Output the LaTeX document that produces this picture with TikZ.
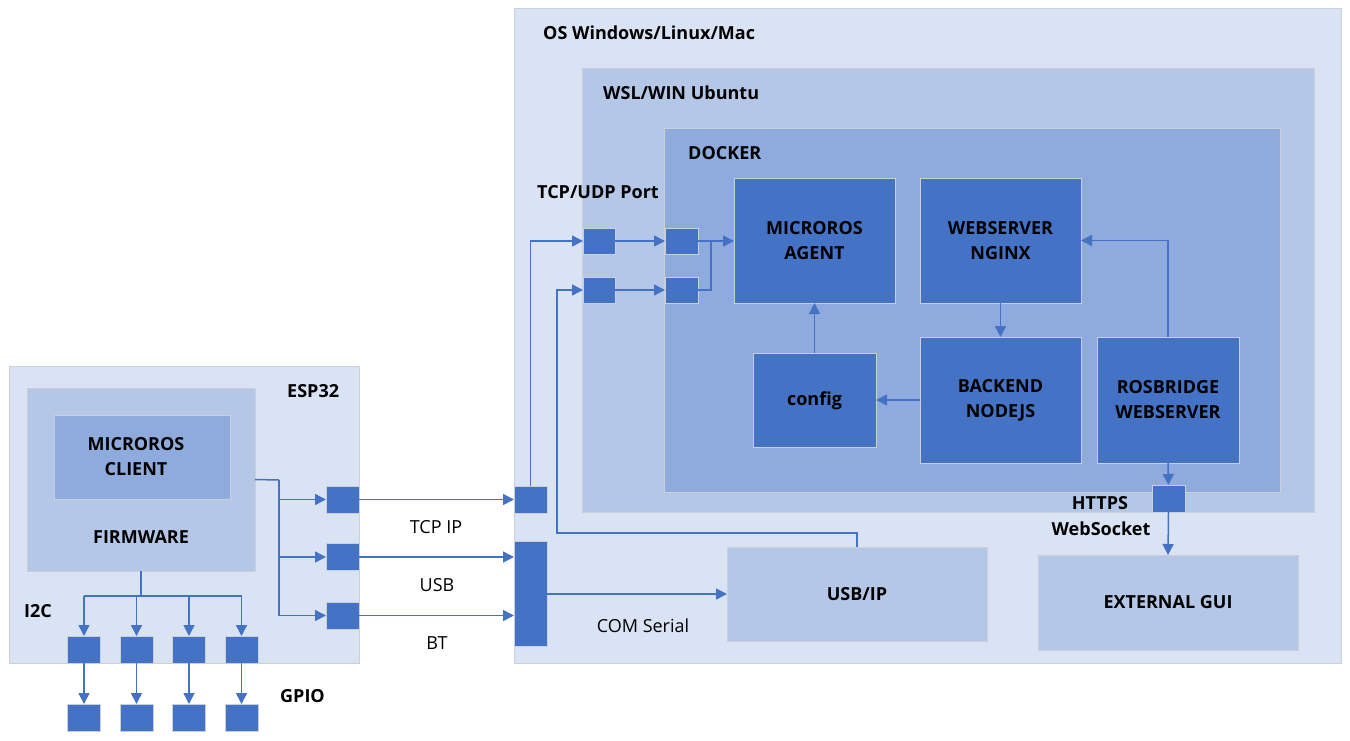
\documentclass[tikz,border=0pt]{standalone}
\usepackage{fontspec}
\setmainfont{Open Sans}
\usetikzlibrary{arrows.meta}
\definecolor{osfill}{HTML}{DAE3F3}
\definecolor{wslfill}{HTML}{B4C7E7}
\definecolor{dockfill}{HTML}{8FAADC}
\definecolor{blu}{HTML}{4472C4}
\definecolor{edge}{HTML}{C9D0DC}
\tikzset{
  panel/.style={draw=edge, line width=0.8pt, inner sep=0pt, outer sep=0pt},
  blk/.style={panel, fill=blu, align=center, font=\fontsize{18}{25}\selectfont\bfseries},
  port/.style={panel, fill=blu},
  lbl/.style={inner sep=0pt, font=\fontsize{18}{25}\selectfont\bfseries, align=center},
  plain/.style={inner sep=0pt, font=\fontsize{18}{25}\selectfont},
  wire/.style={draw=blu, line width=1.5pt},
  arr/.style={wire, -{Triangle[length=11pt,width=11pt]}},
}
\begin{document}
\begin{tikzpicture}[x=1pt,y=-1pt]
\useasboundingbox (0,0) rectangle (1350,741);
\fill[white] (0,0) rectangle (1350,741);
% OS panels
\node[panel, fill=osfill, minimum width=827pt, minimum height=655pt] (os) at (927.5,335.5) {};
\node[panel, fill=wslfill, minimum width=732pt, minimum height=444pt] (wsl) at (948,290) {};
\node[panel, fill=dockfill, minimum width=616pt, minimum height=364pt] (docker) at (972,310) {};
\node[lbl, anchor=west] (osl) at (543,33) {OS Windows/Linux/Mac};
\node[lbl, anchor=west] (wsll) at (603,93) {WSL/WIN Ubuntu};
\node[lbl, anchor=west] (dockl) at (688,153) {DOCKER};
\node[lbl, anchor=west] (tcpudp) at (537,192) {TCP/UDP Port};
% docker blocks
\node[blk, minimum width=161pt, minimum height=125pt] (agent) at (814.5,240.5) {MICROROS\\AGENT};
\node[blk, minimum width=161pt, minimum height=125pt] (nginx) at (1000.5,240.5) {WEBSERVER\\NGINX};
\node[blk, minimum width=123pt, minimum height=94pt] (config) at (814.5,400) {};
\node[lbl] (configl) at (814.5,401) {config};
\node[blk, minimum width=161pt, minimum height=126pt] (backend) at (1000.5,400) {BACKEND\\NODEJS};
\node[blk, minimum width=142pt, minimum height=126pt] (rosb) at (1168,400) {ROSBRIDGE\\WEBSERVER};
\node[port, minimum width=33pt, minimum height=27pt] (https) at (1168.5,498.5) {};
% ports
\node[port, minimum width=32pt, minimum height=26pt] (p1a) at (599,241) {};
\node[port, minimum width=33pt, minimum height=26pt] (p1b) at (681.5,241) {};
\node[port, minimum width=32pt, minimum height=26pt] (p2a) at (599,290) {};
\node[port, minimum width=33pt, minimum height=26pt] (p2b) at (681.5,290) {};
\node[port, minimum width=33pt, minimum height=27pt] (tcpsq) at (530.5,499.5) {};
\node[port, minimum width=33pt, minimum height=105pt] (bar) at (530.5,593.5) {};
% lower boxes
\node[panel, fill=wslfill, minimum width=260pt, minimum height=94pt, font=\fontsize{18}{25}\selectfont\bfseries] (usbip) at (857,594) {USB/IP};
\node[panel, fill=wslfill, minimum width=260pt, minimum height=95pt, font=\fontsize{18}{25}\selectfont\bfseries] (extgui) at (1168,602.5) {EXTERNAL GUI};
\node[lbl] (httpsl) at (1100,503) {HTTPS};
\node[lbl] (wsl2) at (1101,529) {WebSocket};
\node[plain] (coml) at (643,626) {COM Serial};
% ESP32
\node[panel, fill=osfill, minimum width=350pt, minimum height=297pt] (esp) at (184,514.5) {};
\node[panel, fill=wslfill, minimum width=228pt, minimum height=183pt] (fw) at (141,479.5) {};
\node[panel, fill=dockfill, minimum width=176pt, minimum height=84pt] (mc) at (142,457) {};
\node[lbl] (mcl) at (136,457) {MICROROS\\CLIENT};
\node[lbl] (fwl) at (141,537) {FIRMWARE};
\node[lbl, anchor=west] (espl) at (287,391) {ESP32};
\node[lbl, anchor=west] (i2cl) at (24,611) {I2C};
\node[lbl, anchor=west] (gpiol) at (280,696) {GPIO};
\node[port, minimum width=33pt, minimum height=27pt] (s1) at (342.5,499.5) {};
\node[port, minimum width=33pt, minimum height=27pt] (s2) at (342.5,557) {};
\node[port, minimum width=33pt, minimum height=27pt] (s3) at (342.5,615.5) {};
\node[plain] (tcpl) at (436,527) {TCP IP};
\node[plain] (usbl) at (437,585) {USB};
\node[plain] (btl) at (437,643) {BT};
\foreach \i/\x in {1/84,2/136.5,3/189,4/241.5}{
  \node[port, minimum width=33pt, minimum height=27pt] (i\i) at (\x,649.5) {};
  \node[port, minimum width=33pt, minimum height=27pt] (g\i) at (\x,717.5) {};
}
% connectors ESP side
\coordinate (fj) at (279,480);
\draw[wire] (fw.east) -- (fj);
\draw[arr] (fj) |- (s3.west);
\draw[arr] (fj |- s1) -- (s1.west);
\draw[arr] (fj |- s2) -- (s2.west);
\draw[arr] (s1.east) -- (tcpsq.west);
\draw[arr] (s2.east) -- (bar.west |- s2);
\draw[arr] (s3.east) -- (bar.west |- s3);
\coordinate (ib) at (141,596);
\draw[wire] (fw.south) -- (ib);
\draw[wire] (i1 |- ib) -- (i4 |- ib);
\foreach \i in {1,2,3,4}{
  \draw[arr] (i\i |- ib) -- (i\i.north);
  \draw[arr] (i\i.south) -- (g\i.north);
}
% connectors OS side
\draw[arr] (tcpsq.north) |- (p1a.west);
\coordinate (u1) at (557,533);
\draw[arr] (usbip.north) |- (u1) |- (p2a.west);
\draw[arr] (bar.east |- usbip) -- (usbip.west);
\draw[arr] (p1a.east) -- (p1b.west);
\draw[arr] (p2a.east) -- (p2b.west);
\draw[arr] (p1b.east) -- (agent.west |- p1b);
\coordinate (jj) at (711,241);
\draw[wire] (p2b.east) -| (jj);
\draw[arr] (config.north) -- (agent.south);
\draw[arr] (backend.west) -- (config.east);
\draw[arr] (nginx.south) -- (backend.north);
\draw[arr] (rosb.north) |- (nginx.east);
\draw[arr] (rosb.south) -- (https.north);
\draw[arr] (https.south) -- (extgui.north);
\end{tikzpicture}
\end{document}
